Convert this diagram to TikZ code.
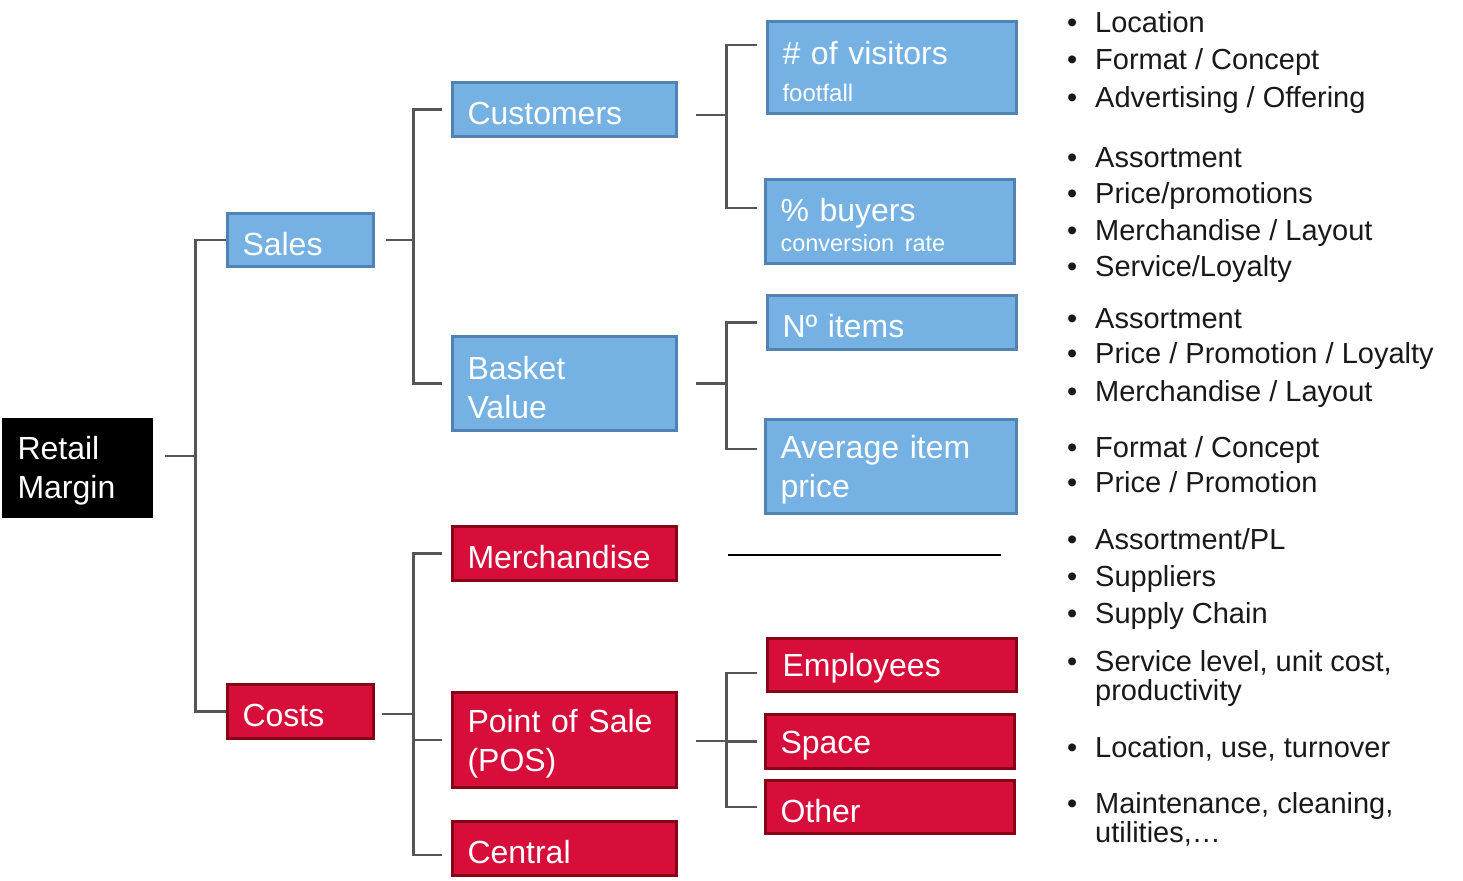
\documentclass[tikz,border=0pt]{standalone}
\usepackage{fontspec}
\setmainfont{Liberation Sans}
\definecolor{bluefill}{RGB}{117,177,227}
\definecolor{blueline}{RGB}{82,130,178}
\definecolor{redfill}{RGB}{215,14,58}
\definecolor{redline}{RGB}{135,0,22}
\definecolor{connc}{RGB}{85,85,85}
\definecolor{bultext}{RGB}{25,25,25}
\newcommand\bxfont{\fontsize{32}{39}\selectfont}
\newcommand\blfont{\fontsize{29}{27}\selectfont}
\newcommand\bmark{\makebox[28pt][l]{•}}
\begin{document}
\begin{tikzpicture}[x=1pt,y=-1pt,
  boxbase/.style={rectangle, line width=2.6pt, text=white, align=left, inner xsep=15pt, inner ysep=0pt, font=\bxfont, execute at begin node={\rule{0pt}{30.5pt}}},
  bluebox/.style={boxbase, draw=blueline, fill=bluefill},
  redbox/.style={boxbase, draw=redline, fill=redfill},
  blackbox/.style={boxbase, draw=black, fill=black, line width=0pt},
  conn/.style={draw=connc, line width=2.6pt},
  bul/.style={anchor=base west, inner sep=0pt, text=bultext, font=\blfont}
]
\useasboundingbox (0,0) rectangle (1463,880);

% level 0
\node[blackbox, minimum width=150pt, text width=119pt, minimum height=99pt] (rm) at (77,467.5) {Retail\\Margin};
% level 1
\node[bluebox, minimum width=146pt, text width=116pt, minimum height=53pt] (sales) at (300.5,240) {Sales};
\node[redbox, minimum width=146pt, text width=116pt, minimum height=54pt] (costs) at (300.5,711.5) {Costs};
% level 2
\node[bluebox, minimum width=224pt, text width=194pt, minimum height=54pt] (cust) at (564.5,109.5) {Customers};
\node[bluebox, minimum width=224pt, text width=194pt, minimum height=94pt] (bask) at (564.5,383.5) {Basket\\Value};
\node[redbox, minimum width=224pt, text width=194pt, minimum height=54pt] (merch) at (564.5,553.5) {Merchandise};
\node[redbox, minimum width=224pt, text width=194pt, minimum height=95pt] (pos) at (564.5,740) {Point of Sale\\(POS)};
\node[redbox, minimum width=224pt, text width=194pt, minimum height=54pt] (central) at (564.5,848.5) {Central};
% level 3
\node[bluebox, minimum width=249pt, text width=219pt, minimum height=92pt] (vis) at (892,67.5) {\# of visitors\\[-2pt]{\fontsize{24}{29}\selectfont footfall}};
\node[bluebox, minimum width=249pt, text width=219pt, minimum height=84pt] (buy) at (890,221.5) {\% buyers\\[-9pt]{\fontsize{23.5}{28}\selectfont conversion rate}};
\node[bluebox, minimum width=249pt, text width=219pt, minimum height=54pt] (nit) at (892,322.5) {Nº items};
\node[bluebox, minimum width=251pt, text width=221pt, minimum height=94pt] (avg) at (891,466.5) {Average item\\price};
\node[redbox, minimum width=249pt, text width=219pt, minimum height=53pt] (emp) at (892,665) {Employees};
\node[redbox, minimum width=249pt, text width=219pt, minimum height=54pt] (space) at (890,741.5) {Space};
\node[redbox, minimum width=249pt, text width=219pt, minimum height=53pt] (oth) at (890,807) {Other};

% connectors
\draw[conn] ([xshift=13pt,yshift=11.5pt]rm.east) -- ++(30,0);
\draw[conn] (sales.west) -- ++(-31,0) |- (costs.west);

\draw[conn] ([xshift=11pt]sales.east) -- ++(27,0);
\draw[conn] ([xshift=-9pt]cust.west) -- ++(-29,0) |- ([xshift=-9pt]bask.west);

\draw[conn] ([xshift=7pt,yshift=-2.5pt]costs.east) -- ++(31,0);
\draw[conn] ([xshift=-9pt]merch.west) -- ++(-29,0) |- ([xshift=-9pt,yshift=-6.5pt]central.west);
\draw[conn] ([xshift=-9pt]pos.west) -- ++(-29,0);

\draw[conn] ([xshift=18pt,yshift=-5.5pt]cust.east) -- ++(31,0);
\draw[conn] ([xshift=-9pt,yshift=22.5pt]vis.west) -- ++(-31,0) |- ([xshift=-7pt,yshift=13.5pt]buy.west);

\draw[conn] ([xshift=18pt]bask.east) -- ++(31,0);
\draw[conn] ([xshift=-9pt]nit.west) -- ++(-31,0) |- ([xshift=-7pt,yshift=17.5pt]avg.west);

\coordinate (mend) at (1001,555);
\draw[draw=black, line width=2.4pt] ([xshift=50pt,yshift=-1.5pt]merch.east) -- (mend);

\draw[conn] ([xshift=18pt,yshift=-1pt]pos.east) -- ++(31,0);
\draw[conn] ([xshift=-9pt,yshift=-8pt]emp.west) -- ++(-31,0) |- ([xshift=-7pt]oth.west);
\draw[conn] ([xshift=-7pt]space.west) -- ++(-31,0);

% bullet lists
\node[bul] (t1) at (1067,33) {\bmark Location};
\node[bul] (t2) at (1067,70) {\bmark Format / Concept};
\node[bul] (t3) at (1067,107) {\bmark Advertising / Offering};
\node[bul] (t4) at (1067,167) {\bmark Assortment};
\node[bul] (t5) at (1067,203) {\bmark Price/promotions};
\node[bul] (t6) at (1067,240) {\bmark Merchandise / Layout};
\node[bul] (t7) at (1067,276) {\bmark Service/Loyalty};
\node[bul] (t8) at (1067,328) {\bmark Assortment};
\node[bul] (t9) at (1067,363) {\bmark Price / Promotion / Loyalty};
\node[bul] (t10) at (1067,401) {\bmark Merchandise / Layout};
\node[bul] (t11) at (1067,457) {\bmark Format / Concept};
\node[bul] (t12) at (1067,492) {\bmark Price / Promotion};
\node[bul] (t13) at (1067,549) {\bmark Assortment/PL};
\node[bul] (t14) at (1067,586) {\bmark Suppliers};
\node[bul] (t15) at (1067,623) {\bmark Supply Chain};
\node[bul] (t16) at (1067,671) {\begin{tabular}[t]{@{}l@{}}\bmark Service level, unit cost,\\\hspace*{28pt}productivity\end{tabular}};
\node[bul] (t17) at (1067,757) {\bmark Location, use, turnover};
\node[bul] (t18) at (1067,813) {\begin{tabular}[t]{@{}l@{}}\bmark Maintenance, cleaning,\\\hspace*{28pt}utilities,…\end{tabular}};
\end{tikzpicture}
\end{document}
